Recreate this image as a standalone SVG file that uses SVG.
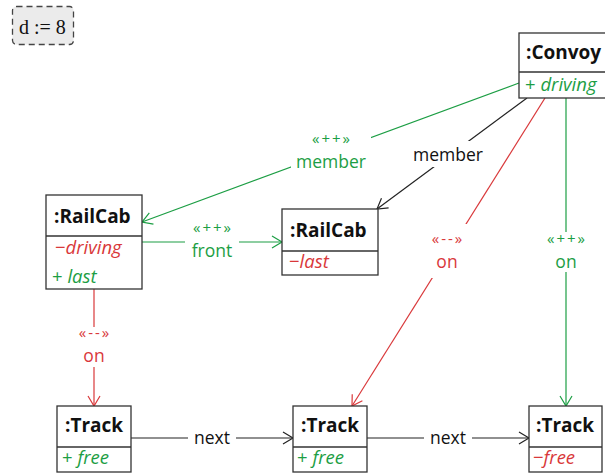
<svg xmlns="http://www.w3.org/2000/svg" width="605" height="474" viewBox="0 0 605 474">
  <style>
    .box { fill: #ffffff; stroke: #333333; stroke-width: 1.3; }
    .div { stroke: #333333; stroke-width: 1.3; }
    .title { font-family: "Open Sans", sans-serif; font-weight: bold; font-size: 19px; fill: #111111; }
    .attr { font-family: "Open Sans", sans-serif; font-style: italic; font-size: 18.5px; }
    .sign { font-style: normal; }
    .lbl { font-family: "Open Sans", sans-serif; font-size: 17.5px; text-anchor: middle; }
    .st { font-family: "Open Sans", sans-serif; font-size: 15px; text-anchor: middle; letter-spacing: 2px; }
    .g { fill: #1c9e44; }
    .r { fill: #d9383a; }
    .k { fill: #111111; }
    .lg { stroke: #1c9e44; stroke-width: 1.2; fill: none; }
    .lr { stroke: #d9383a; stroke-width: 1.2; fill: none; }
    .lk { stroke: #222222; stroke-width: 1.2; fill: none; }
    .bg { fill: #ffffff; stroke: none; }
  </style>
  <defs>
    <marker id="ag" markerUnits="userSpaceOnUse" markerWidth="14" markerHeight="16" refX="11" refY="7" orient="auto">
      <path d="M1,1 L11,7 L1,13" fill="none" stroke="#1c9e44" stroke-width="1.2"/>
    </marker>
    <marker id="ar" markerUnits="userSpaceOnUse" markerWidth="14" markerHeight="16" refX="11" refY="7" orient="auto">
      <path d="M1,1 L11,7 L1,13" fill="none" stroke="#d9383a" stroke-width="1.2"/>
    </marker>
    <marker id="ak" markerUnits="userSpaceOnUse" markerWidth="14" markerHeight="16" refX="11" refY="7" orient="auto">
      <path d="M1,1 L11,7 L1,13" fill="none" stroke="#222222" stroke-width="1.2"/>
    </marker>
  </defs>

  <!-- parameter box -->
  <g id="param">
    <rect x="12.5" y="6.5" width="61" height="38" rx="4" fill="#ebebeb" stroke="#444444" stroke-width="1.3" stroke-dasharray="6,4"/>
    <text x="19" y="33.5" font-family="Liberation Serif, serif" font-size="20" fill="#111111">d := 8</text>
  </g>

  <!-- connectors -->
  <g id="connectors">
    <line class="lg" x1="519" y1="83" x2="142" y2="222" marker-end="url(#ag)"/>
    <line class="lk" x1="527" y1="98" x2="377" y2="209" marker-end="url(#ak)"/>
    <line class="lr" x1="545" y1="98" x2="352" y2="406" marker-end="url(#ar)"/>
    <line class="lg" x1="566" y1="98" x2="566" y2="406" marker-end="url(#ag)"/>
    <line class="lg" x1="142" y1="242" x2="282" y2="242" marker-end="url(#ag)"/>
    <line class="lr" x1="94" y1="289" x2="94" y2="406" marker-end="url(#ar)"/>
    <line class="lk" x1="131" y1="438" x2="293" y2="438" marker-end="url(#ak)"/>
    <line class="lk" x1="367" y1="438" x2="529" y2="438" marker-end="url(#ak)"/>

    <!-- label backdrops -->
    <rect class="bg" x="291" y="133" width="80" height="39"/>
    <rect class="bg" x="408" y="141" width="80" height="26"/>
    <rect class="bg" x="426" y="224" width="43" height="54"/>
    <rect class="bg" x="546" y="232" width="40" height="40"/>
    <rect class="bg" x="185" y="224" width="54" height="34"/>
    <rect class="bg" x="75" y="327" width="38" height="40"/>
    <rect class="bg" x="188" y="428" width="48" height="20"/>
    <rect class="bg" x="424" y="428" width="48" height="20"/>

    <!-- labels -->
    <text class="st g" x="332" y="144">«++»</text>
    <text class="lbl g" x="331" y="168">member</text>
    <text class="lbl k" x="448" y="161">member</text>
    <text class="st r" x="448" y="244">«--»</text>
    <text class="lbl r" x="447" y="268">on</text>
    <text class="st g" x="567" y="244">«++»</text>
    <text class="lbl g" x="566" y="268">on</text>
    <text class="st g" x="213" y="233">«++»</text>
    <text class="lbl g" x="212" y="257">front</text>
    <text class="st r" x="95" y="338">«--»</text>
    <text class="lbl r" x="94" y="362">on</text>
    <text class="lbl k" x="212" y="444">next</text>
    <text class="lbl k" x="448" y="444">next</text>
  </g>

  <!-- object nodes -->
  <g id="convoy">
    <rect class="box" x="519" y="33" width="100" height="65"/>
    <line class="div" x1="519" y1="72" x2="619" y2="72"/>
    <text class="title" x="526" y="59">:Convoy</text>
    <text class="attr g" x="525" y="91"><tspan class="sign">+</tspan> driving</text>
  </g>

  <g id="railcab1">
    <rect class="box" x="46" y="195" width="96" height="94"/>
    <line class="div" x1="46" y1="236" x2="142" y2="236"/>
    <text class="title" x="54" y="223">:RailCab</text>
    <text class="attr r" x="55" y="254"><tspan class="sign">−</tspan>driving</text>
    <text class="attr g" x="52" y="283"><tspan class="sign">+</tspan> last</text>
  </g>

  <g id="railcab2">
    <rect class="box" x="282" y="209" width="96" height="66"/>
    <line class="div" x1="282" y1="251" x2="378" y2="251"/>
    <text class="title" x="290" y="237">:RailCab</text>
    <text class="attr r" x="289" y="268"><tspan class="sign">−</tspan>last</text>
  </g>

  <g id="track1">
    <rect class="box" x="57" y="406" width="74" height="66"/>
    <line class="div" x1="57" y1="447" x2="131" y2="447"/>
    <text class="title" x="65" y="432">:Track</text>
    <text class="attr g" x="62" y="464"><tspan class="sign">+</tspan> free</text>
  </g>

  <g id="track2">
    <rect class="box" x="293" y="406" width="74" height="66"/>
    <line class="div" x1="293" y1="447" x2="367" y2="447"/>
    <text class="title" x="301" y="432">:Track</text>
    <text class="attr g" x="297" y="464"><tspan class="sign">+</tspan> free</text>
  </g>

  <g id="track3">
    <rect class="box" x="529" y="406" width="73" height="66"/>
    <line class="div" x1="529" y1="447" x2="602" y2="447"/>
    <text class="title" x="536" y="432">:Track</text>
    <text class="attr r" x="533" y="464"><tspan class="sign">−</tspan>free</text>
  </g>
</svg>
